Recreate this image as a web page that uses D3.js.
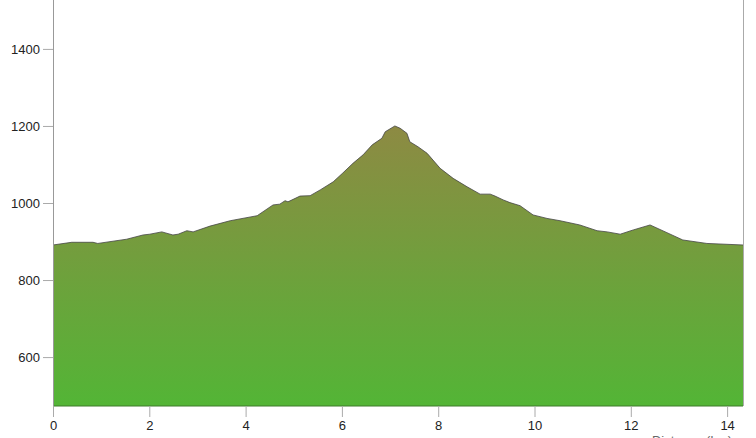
<!DOCTYPE html>
<html>
<head>
<meta charset="utf-8">
<script src="https://cdn.jsdelivr.net/npm/d3@7"></script>
<style>
  html, body { margin: 0; padding: 0; background: #fff; }
  svg { display: block; }
  text { font-family: "Liberation Sans", Arial, Helvetica, sans-serif; }
</style>
</head>
<body>
<svg id="chart" width="756" height="438"></svg>
<script>
// Distance along route (km)
const distance = [0, 0.39, 0.83, 0.93, 1.53, 1.87, 2.01, 2.26, 2.49, 2.60, 2.78, 2.91, 3.26, 3.68, 4.24, 4.57, 4.71, 4.82, 4.88, 5.13, 5.34, 5.55, 5.82, 6.02, 6.23, 6.44, 6.63, 6.83, 6.90, 7.10, 7.21, 7.35, 7.41, 7.58, 7.77, 8.04, 8.31, 8.60, 8.87, 9.08, 9.18, 9.35, 9.49, 9.70, 9.97, 10.26, 10.53, 10.94, 11.30, 11.51, 11.78, 12.05, 12.40, 12.75, 13.08, 13.58, 14.33];
// Elevation (m)
const elevation = [891, 898, 898, 895, 906, 917, 919, 925, 917, 919, 928, 925, 940, 954, 967, 995, 997, 1006, 1003, 1018, 1019, 1034, 1055, 1078, 1103, 1125, 1151, 1168, 1185, 1200, 1194, 1181, 1159, 1146, 1129, 1090, 1064, 1042, 1023, 1023, 1018, 1008, 1001, 993, 969, 960, 954, 943, 928, 925, 919, 930, 943, 923, 904, 895, 891];
const xTicks = [0, 2, 4, 6, 8, 10, 12, 14];
const yTicks = [600, 800, 1000, 1200, 1400];
const xLabel = "Distance (km)";

(function () {
const data = distance.map((d, i) => ({ d, e: elevation[i] }));

const svg = d3.select("#chart");
const mLeft = 53, mRight = 743, mTop = 0, mBottom = 406;

const x = d3.scaleLinear().domain([0, 14.33]).range([mLeft, mRight]);
const y = d3.scaleLinear().domain([473, 1527]).range([mBottom, mTop]);

const defs = svg.append("defs");
const grad = defs.append("linearGradient")
  .attr("id", "elevGrad")
  .attr("x1", 0).attr("y1", 0).attr("x2", 0).attr("y2", 1);
grad.append("stop").attr("offset", "0%").attr("stop-color", "#8d8a43");
grad.append("stop").attr("offset", "100%").attr("stop-color", "#53b536");

const area = d3.area()
  .x(p => x(p.d))
  .y0(y(473))
  .y1(p => y(p.e));

svg.append("path")
  .datum(data)
  .attr("d", area)
  .attr("fill", "url(#elevGrad)")
  .attr("stroke", "none");

const line = d3.line().x(p => x(p.d)).y(p => y(p.e));
svg.append("path")
  .datum(data)
  .attr("d", line)
  .attr("fill", "none")
  .attr("stroke", "#444")
  .attr("stroke-width", 0.8);

svg.append("line")
  .attr("x1", mLeft).attr("x2", mRight)
  .attr("y1", y(473)).attr("y2", y(473))
  .attr("stroke", "#3f7a2a").attr("stroke-width", 1);

svg.append("line")
  .attr("x1", mRight + 0.5).attr("x2", mRight + 0.5)
  .attr("y1", 0).attr("y2", mBottom)
  .attr("stroke", "#aaaaaa").attr("stroke-width", 1);

const yAxis = d3.axisLeft(y).tickValues(yTicks).tickSize(10).tickPadding(3).tickFormat(d3.format("d"));
const gy = svg.append("g").attr("transform", `translate(${mLeft},0)`).call(yAxis);
gy.select(".domain").attr("stroke", "#999").attr("d", `M0.5,0V${mBottom}`);
gy.selectAll(".tick line").attr("stroke", "#aaa");
gy.selectAll(".tick text").attr("fill", "#222").style("font-size", "13px")
  .style("font-family", "'Liberation Sans', Arial, sans-serif");

const xAxis = d3.axisBottom(x).tickValues(xTicks).tickSize(11).tickPadding(4).tickFormat(d3.format("d"));
const gx = svg.append("g").attr("transform", `translate(0,${mBottom})`).call(xAxis);
gx.select(".domain").remove();
gx.selectAll(".tick line").attr("stroke", "#aaa");
gx.selectAll(".tick text").attr("fill", "#222").style("font-size", "13px")
  .style("font-family", "'Liberation Sans', Arial, sans-serif");

svg.append("text")
  .attr("x", 692).attr("y", 445)
  .attr("text-anchor", "middle")
  .attr("fill", "#666")
  .style("font-size", "13px")
  .text(xLabel);
})();
</script>
</body>
</html>
